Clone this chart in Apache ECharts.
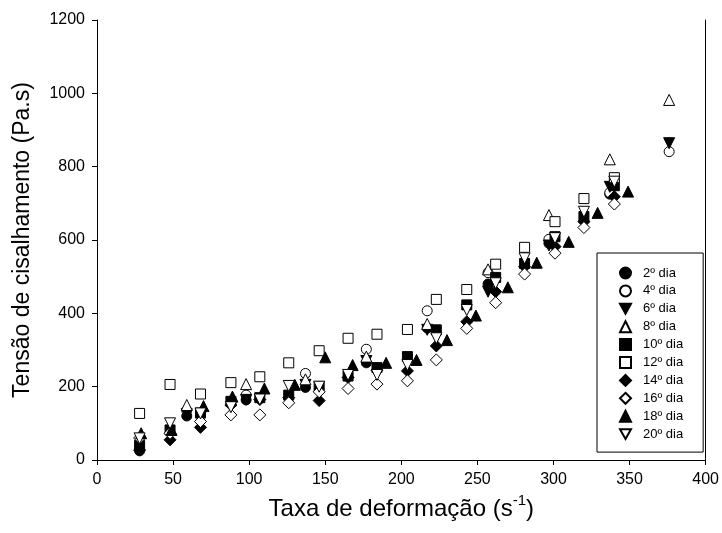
<!DOCTYPE html>
<html>
<head>
<meta charset="utf-8">
<script src="https://cdn.jsdelivr.net/npm/echarts@6/dist/echarts.min.js"></script>
<style>
  html, body { margin: 0; padding: 0; background: #fff; }
</style>
</head>
<body>
<div id="chart" style="width:722px;height:533px;"></div>
<script>
// shear rates (s-1)
const rateA = [28, 48, 68, 88, 107, 126, 146, 165, 184, 204, 223, 243, 262, 281, 301, 320, 340]
const rate18 = [29, 49, 70, 89, 110, 130, 150, 168, 190, 210, 230, 249, 270, 289, 310, 329, 349]
const rateB = [59, 98, 137, 177, 217, 257, 297, 337, 376]
const rate2 = [28, 59, 98, 137, 177, 217, 257, 297, 337]

// shear stress per storage day
const day2 = [25, 120, 164, 198, 265, 360, 480, 591, 725]
const day4 = [135, 177, 236, 302, 407, 511, 602, 729, 841]
const day6 = [125, 164, 205, 270, 355, 459, 585, 745, 864]
const day8 = [150, 207, 220, 282, 371, 520, 668, 820, 982]
const day10 = [40, 82, 128, 160, 170, 177, 200, 229, 252, 282, 355, 423, 498, 536, 609, 664, 748]
const day12 = [127, 206, 180, 211, 227, 265, 298, 332, 343, 356, 438, 465, 534, 580, 650, 713, 770]
const day14 = [27, 55, 89, 150, 165, 170, 162, 225, 245, 243, 311, 377, 459, 527, 582, 650, 718]
const day16 = [60, 73, 105, 123, 123, 156, 186, 195, 207, 216, 273, 359, 429, 507, 564, 634, 698]
const day18 = [73, 82, 147, 173, 195, 205, 280, 259, 265, 273, 327, 394, 471, 538, 595, 674, 732]
const day20 = [59, 100, 127, 144, 165, 202, 200, 232, 232, 259, 332, 409, 482, 550, 605, 677, 759]

const xTicks = [0, 50, 100, 150, 200, 250, 300, 350, 400]
const yTicks = [0, 200, 400, 600, 800, 1000, 1200]

function pairs(xs, ys) {
  return ys.map((v, i) => [xs[i], v])
}

// filled / open marker styles
const filled = { color: '#000', borderColor: '#000', borderWidth: 1, opacity: 1 }
const open = { color: '#fff', borderColor: '#000', borderWidth: 1, opacity: 1 }
const downTri = 'path://M0,0L10,0L5,9Z'

function scatter(name, xs, ys, symbol, size, style, rotate) {
  return {
    name: name,
    type: 'scatter',
    data: pairs(xs, ys),
    symbol: symbol,
    symbolSize: size,
    symbolRotate: rotate || 0,
    itemStyle: style,
    emphasis: { disabled: true }
  }
}

const legendNames = ['2º dia', '4º dia', '6º dia', '8º dia', '10º dia', '12º dia', '14º dia', '16º dia', '18º dia', '20º dia']

const chart = echarts.init(document.getElementById('chart'))
chart.setOption({
  animation: false,
  textStyle: { fontFamily: 'Liberation Sans, Arial, sans-serif' },
  grid: { left: 97, right: 16, top: 20, bottom: 73 },
  legend: {
    orient: 'vertical',
    left: 597,
    top: 253,
    padding: [13, 20, 11, 22],
    itemGap: 3.9,
    itemWidth: 11,
    itemHeight: 11,
    backgroundColor: '#fff',
    borderColor: '#000',
    borderWidth: 1,
    textStyle: { fontSize: 13, lineHeight: 14, color: '#000', padding: [0, 0, 0, 7] },
    data: legendNames.map(n => (n === '6º dia' || n === '20º dia') ? { name: n, icon: downTri } : n)
  },
  xAxis: {
    type: 'value',
    min: 0,
    max: 400,
    interval: 50,
    name: '{a|Taxa de deformação (s}{sup|-1}{a|)}',
    nameLocation: 'middle',
    nameGap: 32,
    nameTextStyle: {
      rich: {
        a: { fontSize: 24, color: '#000', lineHeight: 28, verticalAlign: 'bottom' },
        sup: { fontSize: 15, color: '#000', lineHeight: 28, verticalAlign: 'top' }
      }
    },
    axisLine: { lineStyle: { color: '#000', width: 1 } },
    axisTick: { length: 5, lineStyle: { color: '#000' } },
    axisLabel: { fontSize: 16, color: '#000', margin: 12, formatter: v => xTicks.includes(v) ? String(v) : '' },
    splitLine: { show: false }
  },
  yAxis: [{
    type: 'value',
    min: 0,
    max: 1200,
    interval: 200,
    name: 'Tensão de cisalhamento (Pa.s)',
    nameLocation: 'middle',
    nameGap: 63,
    nameTextStyle: { fontSize: 23, color: '#000' },
    axisLine: { show: true, lineStyle: { color: '#000', width: 1 } },
    axisTick: { show: true, length: 5, lineStyle: { color: '#000' } },
    axisLabel: { fontSize: 16, color: '#000', margin: 12, formatter: v => yTicks.includes(v) ? String(v) : '' },
    splitLine: { show: false }
  }, {
    // right frame line only
    type: 'value',
    position: 'right',
    min: 0,
    max: 1200,
    interval: 200,
    axisLine: { show: true, lineStyle: { color: '#000', width: 1 } },
    axisTick: { show: false },
    axisLabel: { show: false },
    splitLine: { show: false }
  }],
  series: [
    scatter('2º dia', rate2, day2, 'circle', 10, filled),
    scatter('4º dia', rateB, day4, 'circle', 10, open),
    scatter('6º dia', rateB, day6, 'triangle', 11, filled, 180),
    scatter('8º dia', rateB, day8, 'triangle', 11, open),
    scatter('10º dia', rateA, day10, 'rect', 10, filled),
    scatter('12º dia', rateA, day12, 'rect', 10, open),
    scatter('14º dia', rateA, day14, 'diamond', 12, filled),
    scatter('16º dia', rateA, day16, 'diamond', 12, open),
    scatter('18º dia', rate18, day18, 'triangle', 11, filled),
    scatter('20º dia', rateA, day20, 'triangle', 11, open, 180)
  ]
})
</script>
</body>
</html>
